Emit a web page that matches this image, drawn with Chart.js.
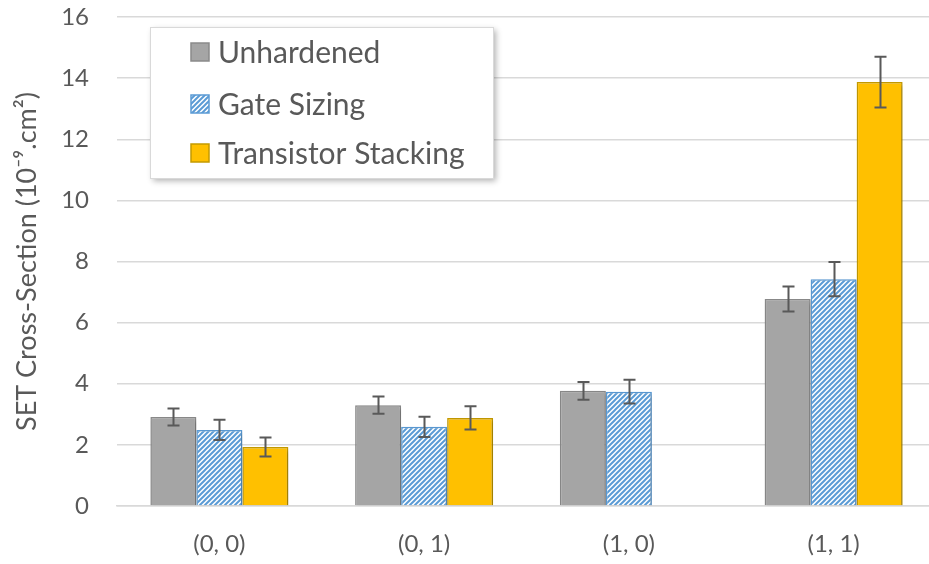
<!DOCTYPE html>
<html>
<head>
<meta charset="utf-8">
<script src="https://cdn.jsdelivr.net/npm/chart.js@4"></script>
<style>
  html, body { margin: 0; padding: 0; background: #fff; overflow: hidden; }
  #wrap { width: 940px; height: 564px; }
</style>
</head>
<body>
<div id="wrap"><canvas id="setChart" width="940" height="564"></canvas></div>
<script>
const categories = ['(0, 0)', '(0, 1)', '(1, 0)', '(1, 1)'];
const seriesNames = ['Unhardened', 'Gate Sizing', 'Transistor Stacking'];

const unhardened = [2.91, 3.30, 3.77, 6.77];
const gateSizing = [2.49, 2.59, 3.74, 7.42];
const transistorStacking = [1.93, 2.88, null, 13.87];

const unhardenedErr = [0.28, 0.28, 0.29, 0.41];
const gateSizingErr = [0.33, 0.33, 0.39, 0.56];
const transistorStackingErr = [0.31, 0.38, null, 0.83];

const yTicks = [0, 2, 4, 6, 8, 10, 12, 14, 16];

const textColor = '#595959';
const fontFamily = 'Lato, "Open Sans", sans-serif';

// blue diagonal hatching used for the gate sizing bars
function makeHatch() {
    const c = document.createElement('canvas');
    c.width = 5;
    c.height = 5;
    const g = c.getContext('2d');
    g.fillStyle = '#ffffff';
    g.fillRect(0, 0, 5, 5);
    g.strokeStyle = '#5B9BD5';
    g.lineWidth = 2;
    g.beginPath();
    g.moveTo(0, 5); g.lineTo(5, 0);
    g.moveTo(-1, 1); g.lineTo(1, -1);
    g.moveTo(4, 6); g.lineTo(6, 4);
    g.stroke();
    return g.createPattern(c, 'repeat');
}
const hatch = makeHatch();

// soft shadow under the bars
const barShadow = {
    id: 'barShadow',
    beforeDatasetsDraw(chart) {
        const ctx = chart.ctx;
        ctx.save();
        ctx.shadowColor = 'rgba(0,0,0,0.22)';
        ctx.shadowBlur = 4;
        ctx.shadowOffsetX = 2;
        ctx.shadowOffsetY = 2;
    },
    afterDatasetsDraw(chart) {
        chart.ctx.restore();
    }
};

// error bars from each dataset's errors array
const errorBars = {
    id: 'errorBars',
    afterDatasetsDraw(chart) {
        const ctx = chart.ctx;
        const y = chart.scales.y;
        ctx.save();
        ctx.strokeStyle = '#595959';
        ctx.lineWidth = 2;
        chart.data.datasets.forEach((ds, i) => {
            const meta = chart.getDatasetMeta(i);
            meta.data.forEach((bar, j) => {
                const v = ds.data[j];
                const e = ds.errors[j];
                if (v == null || e == null) return;
                const top = y.getPixelForValue(v + e);
                const bot = y.getPixelForValue(v - e);
                const x = Math.round(bar.x) + 0.5;
                ctx.beginPath();
                ctx.moveTo(x, top); ctx.lineTo(x, bot);
                ctx.moveTo(x - 6, top); ctx.lineTo(x + 6, top);
                ctx.moveTo(x - 6, bot); ctx.lineTo(x + 6, bot);
                ctx.stroke();
            });
        });
        ctx.restore();
    }
};

// boxed legend floating over the plot, top left
const boxLegend = {
    id: 'boxLegend',
    afterDraw(chart) {
        const ctx = chart.ctx;
        const bx = 150, by = 27, bw = 343, bh = 151;
        ctx.save();
        ctx.shadowColor = 'rgba(0,0,0,0.3)';
        ctx.shadowBlur = 6;
        ctx.shadowOffsetX = 3;
        ctx.shadowOffsetY = 3;
        ctx.fillStyle = '#ffffff';
        ctx.fillRect(bx, by, bw, bh);
        ctx.restore();
        ctx.save();
        ctx.strokeStyle = '#D9D9D9';
        ctx.lineWidth = 1;
        ctx.strokeRect(bx + 0.5, by + 0.5, bw, bh);
        const rows = [52, 104, 153];
        ctx.font = '30px ' + fontFamily;
        ctx.textBaseline = 'middle';
        chart.data.datasets.forEach((ds, i) => {
            const cy = rows[i];
            ctx.fillStyle = ds.backgroundColor;
            ctx.fillRect(191, cy - 9, 18, 18);
            ctx.strokeStyle = ds.borderColor;
            ctx.lineWidth = 1.5;
            ctx.strokeRect(191, cy - 9, 18, 18);
            ctx.fillStyle = textColor;
            ctx.fillText(ds.label, 218, cy + 1);
        });
        ctx.restore();
    }
};

new Chart(document.getElementById('setChart'), {
    type: 'bar',
    data: {
        labels: categories,
        datasets: [{
            label: seriesNames[0],
            data: unhardened,
            errors: unhardenedErr,
            backgroundColor: '#A5A5A5',
            borderColor: '#8A8A8A',
            borderWidth: 1.5
        }, {
            label: seriesNames[1],
            data: gateSizing,
            errors: gateSizingErr,
            backgroundColor: hatch,
            borderColor: '#5B9BD5',
            borderWidth: 1.5
        }, {
            label: seriesNames[2],
            data: transistorStacking,
            errors: transistorStackingErr,
            backgroundColor: '#FFC000',
            borderColor: '#C49A00',
            borderWidth: 1.5
        }]
    },
    options: {
        responsive: false,
        animation: false,
        devicePixelRatio: 1,
        layout: { padding: { top: 17, right: 4, left: 0, bottom: 0 } },
        datasets: {
            bar: { categoryPercentage: 0.674, barPercentage: 1.0 }
        },
        plugins: {
            legend: { display: false },
            tooltip: { enabled: false }
        },
        scales: {
            x: {
                grid: { display: false, drawTicks: false },
                border: { display: true, color: '#D9D9D9', width: 1.5 },
                ticks: { color: textColor, font: { size: 24, family: fontFamily }, padding: 24 },
                afterFit(scale) {
                    scale.height = 58;
                    scale.paddingLeft = 0;
                    scale.paddingRight = 0;
                }
            },
            y: {
                min: 0,
                max: 16,
                afterBuildTicks(scale) { scale.ticks = yTicks.map(v => ({ value: v })); },
                grid: { color: '#D9D9D9', lineWidth: 1.5, drawTicks: false },
                border: { display: false },
                ticks: { color: textColor, font: { size: 24, family: fontFamily }, padding: 28 },
                title: {
                    display: true,
                    text: 'SET Cross-Section (10\u207B\u2079.cm\u00B2)',
                    color: textColor,
                    font: { size: 27, family: fontFamily },
                    padding: { top: 11, bottom: 0 }
                },
                afterFit(scale) {
                    scale.width = 117;
                    scale.paddingTop = 0;
                    scale.paddingBottom = 0;
                }
            }
        }
    },
    plugins: [barShadow, errorBars, boxLegend]
});
</script>
</body>
</html>
